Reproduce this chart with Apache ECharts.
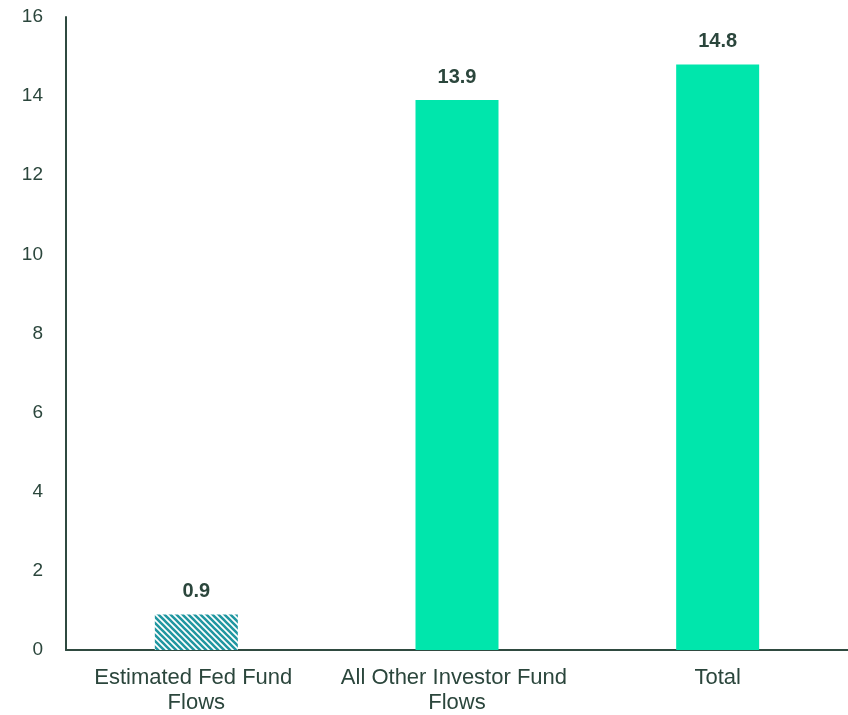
<!DOCTYPE html>
<html><head><meta charset="utf-8">
<script src="https://cdn.jsdelivr.net/npm/echarts@6/dist/echarts.min.js"></script>
<style>html,body{margin:0;padding:0;background:#fff}#c{width:848px;height:715px}</style>
</head><body><div id="c"></div>
<script>
const categories = ['Estimated Fed Fund Flows', 'All Other Investor Fund Flows', 'Total'];
const values = [0.9, 13.9, 14.8];
const yTicks = [0, 2, 4, 6, 8, 10, 12, 14, 16];

function hatch() {
  const s = 6;
  const c = document.createElement('canvas');
  c.width = s; c.height = s;
  const g = c.getContext('2d');
  g.fillStyle = '#fff'; g.fillRect(0, 0, s, s);
  g.strokeStyle = '#2097a1'; g.lineWidth = 2.6;
  g.beginPath();
  g.moveTo(-1, -1); g.lineTo(s + 1, s + 1);
  g.moveTo(-1, s - 1); g.lineTo(1, s + 1);
  g.moveTo(s - 1, -1); g.lineTo(s + 1, 1);
  g.stroke();
  return c;
}
const txt = '#2b463c';
const font = 'Liberation Sans, Arial, sans-serif';
const chart = echarts.init(document.getElementById('c'));
chart.setOption({
  animation: false,
  grid: { left: 66, top: 17, width: 787, bottom: 65 },
  xAxis: {
    type: 'category', data: categories,
    axisLine: { lineStyle: { color: '#2f4a40', width: 2 } },
    axisTick: { show: false },
    axisLabel: { interval: 0, color: txt, fontSize: 22, fontFamily: font, width: 252, overflow: 'break', lineHeight: 25, margin: 15 }
  },
  yAxis: {
    type: 'value', min: yTicks[0], max: yTicks[yTicks.length - 1], interval: 2,
    splitLine: { show: false },
    axisLine: { show: true, lineStyle: { color: '#2f4a40', width: 2 } },
    axisLabel: { color: txt, fontSize: 19, fontFamily: font, margin: 23 }
  },
  series: [{
    type: 'bar', barWidth: 83,
    data: values.map((v, i) => ({ value: v, itemStyle: { color: i === 0 ? { image: hatch(), repeat: 'repeat' } : '#00e6ac' } })),
    label: { show: true, position: 'top', distance: 13, color: txt, fontSize: 20, fontWeight: 'bold', fontFamily: font, formatter: p => p.value.toFixed(1) }
  }]
});
</script></body></html>
